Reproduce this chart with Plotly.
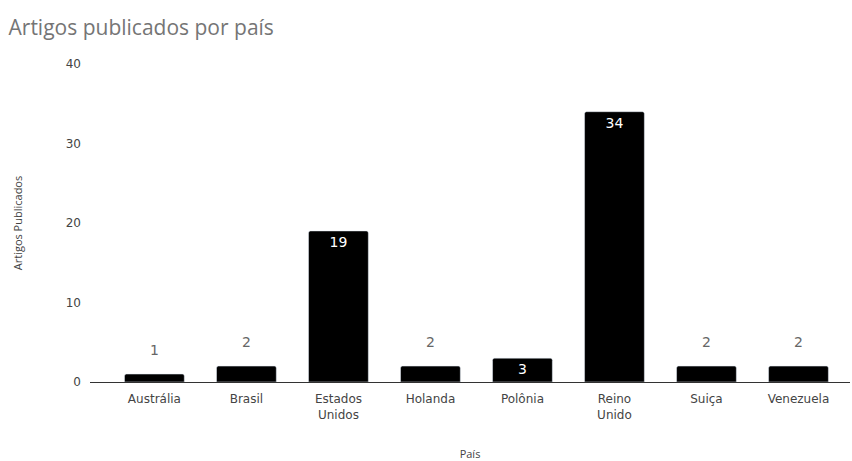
import plotly.graph_objects as go

# Articles published per country
paises = ["Austrália", "Brasil", "Estados<br>Unidos", "Holanda", "Polônia",
          "Reino<br>Unido", "Suiça", "Venezuela"]
artigos = [1, 2, 19, 2, 3, 34, 2, 2]

# values small enough get their label above the bar, the rest inside
limite_interno = 3
texto_interno = [str(v) if v >= limite_interno else "" for v in artigos]

fonte_eixos = "DejaVu Sans"

fig = go.Figure()
fig.add_trace(go.Bar(
    x=paises,
    y=artigos,
    marker=dict(color="#000000", cornerradius=2),
    width=0.65,
    text=texto_interno,
    textposition="inside",
    insidetextanchor="end",
    textangle=0,
    textfont=dict(color="#ffffff", size=14, family=fonte_eixos),
    cliponaxis=False,
))

for p, v in zip(paises, artigos):
    if v < limite_interno:
        fig.add_annotation(
            x=p, y=v, text=str(v), showarrow=False, yanchor="bottom", yshift=14,
            font=dict(color="#666666", size=14, family=fonte_eixos),
        )

fig.update_layout(
    width=852, height=461,
    margin=dict(l=90, r=2, t=64, b=79),
    plot_bgcolor="white", paper_bgcolor="white",
    showlegend=False,
    title=dict(
        text="Artigos publicados por país",
        x=0.01, xanchor="left", y=0.94, yanchor="middle",
        font=dict(size=21, color="#757575", family="Open Sans"),
    ),
    font=dict(family=fonte_eixos, color="#444444"),
)
fig.update_xaxes(
    range=[-0.7, 7.56], automargin=False,
    showline=True, linecolor="#333333", linewidth=1,
    showgrid=False, ticks="", ticklabelstandoff=6,
    tickfont=dict(size=12, color="#444444", family=fonte_eixos),
    title=dict(text="País", font=dict(size=11, color="#444444", family="Open Sans"),
               standoff=34),
)
fig.update_yaxes(
    range=[0, 40], automargin=False,
    tickvals=[0, 10, 20, 30, 40],
    showgrid=False, zeroline=False, showline=False,
    ticks="", ticklabelstandoff=8,
    tickfont=dict(size=12, color="#444444", family=fonte_eixos),
    title=dict(text="Artigos Publicados", font=dict(size=11, color="#444444", family="Open Sans"),
               standoff=40),
)

fig.write_html("out.html")
